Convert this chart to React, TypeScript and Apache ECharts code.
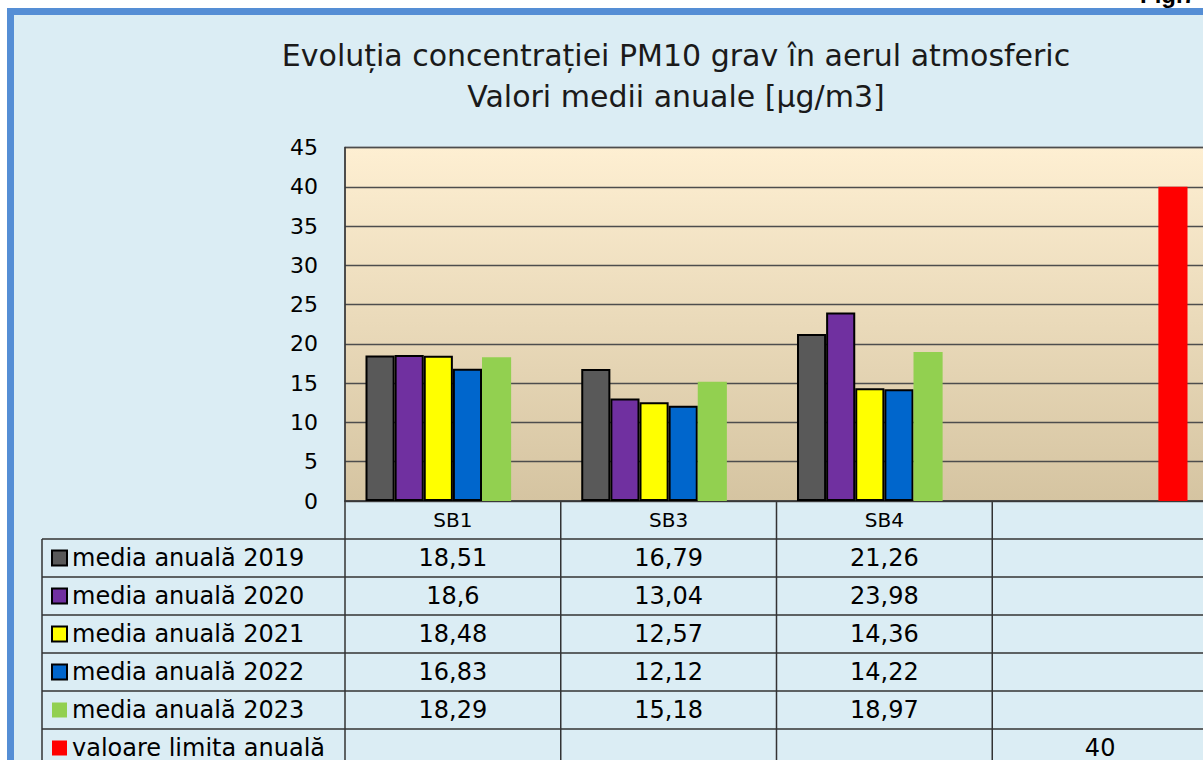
import React, { useEffect, useRef } from "react";
import * as echarts from "echarts";

const categories = ["SB1", "SB3", "SB4", ""];
const seriesNames = [
  "media anuală 2019",
  "media anuală 2020",
  "media anuală 2021",
  "media anuală 2022",
  "media anuală 2023",
  "valoare limita anuală",
];
const v2019 = [18.51, 16.79, 21.26, null];
const v2020 = [18.6, 13.04, 23.98, null];
const v2021 = [18.48, 12.57, 14.36, null];
const v2022 = [16.83, 12.12, 14.22, null];
const v2023 = [18.29, 15.18, 18.97, null];
const vLimit = [null, null, null, 40];
const allValues = [v2019, v2020, v2021, v2022, v2023, vLimit];
const colors = ["#595959", "#7030A0", "#FFFF00", "#0066CC", "#92D050", "#FF0000"];
const bordered = [true, true, true, true, false, false];
const titleLines = [
  "Evoluția concentrației PM10 grav în aerul atmosferic",
  "Valori medii anuale [µg/m3]",
];

const FONT = "DejaVu Sans";
const GRID_LEFT = 345;
const GRID_TOP = 147.5;
const GRID_H = 353.5;
const GRID_W = 863;
const ROW_H = 38;

function fmt(v: number | null) {
  return v == null ? "" : String(v).replace(".", ",");
}

export default function App() {
  const ref = useRef<HTMLDivElement>(null);
  useEffect(() => {
    if (!ref.current) return;
    const chart = echarts.init(ref.current, undefined, { renderer: "svg" });
    const axisY = GRID_TOP + GRID_H;
    const colW = GRID_W / categories.length;
    const lineStyle = { stroke: "#333333", lineWidth: 1.5 };
    const graphics: any[] = [];
    titleLines.forEach((t, i) => {
      graphics.push({
        type: "text",
        x: 676,
        y: 55 + i * 41,
        style: {
          text: t,
          fontFamily: FONT,
          fontSize: 30,
          fill: "#1a1a1a",
          textAlign: "center",
          textVerticalAlign: "middle",
        },
      });
    });
    graphics.push({
      type: "text",
      x: 1196,
      y: 6,
      style: {
        text: "Fig.7",
        fontFamily: "Liberation Sans",
        fontSize: 24,
        fontWeight: "bold",
        fill: "#000",
        textAlign: "right",
        textVerticalAlign: "bottom",
      },
    });
    const tableTop = axisY + ROW_H;
    for (let r = 0; r <= seriesNames.length; r++) {
      const y = tableTop + r * ROW_H;
      graphics.push({ type: "line", shape: { x1: 42, y1: y, x2: 1210, y2: y }, style: lineStyle });
    }
    graphics.push({ type: "line", shape: { x1: 42, y1: tableTop, x2: 42, y2: 770 }, style: lineStyle });
    for (let k = 0; k < categories.length; k++) {
      const x = GRID_LEFT + k * colW;
      graphics.push({ type: "line", shape: { x1: x, y1: axisY, x2: x, y2: 770 }, style: lineStyle });
    }

    chart.setOption({
      animation: false,
      backgroundColor: "transparent",
      grid: {
        left: GRID_LEFT,
        top: GRID_TOP,
        width: GRID_W,
        height: GRID_H,
        outerBoundsMode: "none",
        containLabel: false,
        show: true,
        borderColor: "#808080",
        borderWidth: 1.5,
        backgroundColor: new echarts.graphic.LinearGradient(0, 0, 0, 1, [
          { offset: 0, color: "#FEEFD2" },
          { offset: 1, color: "#D5C4A1" },
        ]),
      },
      legend: {
        orient: "vertical",
        left: 51,
        top: tableTop,
        height: 400,
        padding: 0,
        icon: "rect",
        itemWidth: 15,
        itemHeight: 15,
        itemGap: 0,
        selectedMode: false,
        data: seriesNames,
        textStyle: { fontFamily: FONT, fontSize: 24, lineHeight: ROW_H, color: "#000" },
      },
      xAxis: {
        type: "category",
        data: categories,
        axisTick: { show: false },
        axisLine: { show: true, lineStyle: { color: "#333", width: 1.5 } },
        axisLabel: {
          interval: 0,
          margin: 0,
          fontFamily: FONT,
          fontSize: 24,
          lineHeight: ROW_H,
          color: "#000",
          formatter: (value: string, index: number) =>
            [`{h|${value}}`, ...allValues.map((s) => fmt(s[index]))].join("\n"),
          rich: {
            h: { fontFamily: FONT, fontSize: 20, lineHeight: ROW_H, color: "#000" },
          },
        },
      },
      yAxis: {
        type: "value",
        min: 0,
        max: 45,
        interval: 5,
        axisLine: { show: true, lineStyle: { color: "#333", width: 1.5 } },
        axisTick: { show: false },
        axisLabel: { margin: 27, fontFamily: FONT, fontSize: 22, color: "#000" },
        splitLine: { lineStyle: { color: "#4d4d4d", width: 1.3 } },
      },
      series: seriesNames.map((name, i) => ({
        name,
        type: "bar",
        data: allValues[i],
        barGap: "0%",
        barCategoryGap: "19%",
        itemStyle: {
          color: colors[i],
          borderColor: bordered[i] ? "#000" : colors[i],
          borderWidth: bordered[i] ? 2 : 0,
        },
      })),
      graphic: graphics,
    });
    return () => chart.dispose();
  }, []);

  return (
    <div style={{ position: "absolute", left: 0, top: 0, width: 1203, height: 760, overflow: "hidden", background: "#fff" }}>
      <div
        style={{
          position: "absolute",
          left: 7,
          top: 8,
          width: 1260,
          height: 820,
          boxSizing: "border-box",
          background: "#DBEDF4",
          border: "7px solid #558ED5",
        }}
      />
      <div ref={ref} style={{ position: "absolute", left: 0, top: 0, width: 1203, height: 760 }} />
    </div>
  );
}
